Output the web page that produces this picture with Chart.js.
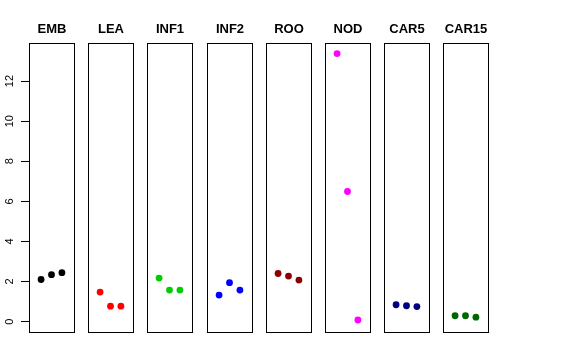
<!DOCTYPE html>
<html>
<head>
<meta charset="utf-8">
<script src="https://cdn.jsdelivr.net/npm/chart.js@4"></script>
<style>
    body { margin: 0; background: #fff; }
    #wrap { position: relative; width: 576px; height: 360px; }
    #wrap canvas { position: absolute; top: 0; }
</style>
</head>
<body>
<div id="wrap"></div>
<script>
// =========================================
// Data
// =========================================

const panels = ["EMB", "LEA", "INF1", "INF2", "ROO", "NOD", "CAR5", "CAR15"];

const positions = [1, 2, 3];

const emb   = [2.10, 2.34, 2.44];
const lea   = [1.47, 0.77, 0.77];
const inf1  = [2.17, 1.57, 1.57];
const inf2  = [1.32, 1.94, 1.57];
const roo   = [2.40, 2.27, 2.07];
const nod   = [13.37, 6.49, 0.08];
const car5  = [0.84, 0.79, 0.75];
const car15 = [0.29, 0.29, 0.22];

const seriesValues = [emb, lea, inf1, inf2, roo, nod, car5, car15];

const yTicks = [0, 2, 4, 6, 8, 10, 12];

const colors = [
    "#000000",
    "#FF0000",
    "#00CD00",
    "#0000FF",
    "#8B0000",
    "#FF00FF",
    "#000080",
    "#006400"
];


// =========================================
// Layout
// =========================================

const panelLefts = [29, 88, 147, 207, 266, 325, 384, 443];
const panelWidth = 44;
const plotTop = 43;
const plotBottom = 331;
const side = 8;
const axisWidth = 29;


// box + title drawn around each chart area
const panelDecor = {
    id: "panelDecor",
    afterDraw(chart, args, opts) {
        const a = chart.chartArea;
        const ctx = chart.ctx;
        ctx.save();
        ctx.strokeStyle = "#000";
        ctx.lineWidth = 1;
        ctx.strokeRect(
            Math.round(a.left) + 0.5,
            Math.round(a.top) + 0.5,
            Math.round(a.right - a.left),
            Math.round(a.bottom - a.top)
        );
        ctx.fillStyle = "#000";
        ctx.font = "bold 13px 'Liberation Sans', Arial, sans-serif";
        ctx.textAlign = "center";
        ctx.textBaseline = "middle";
        ctx.fillText(opts.text, (a.left + a.right) / 2 + 0.5, 29);
        ctx.restore();
    }
};


// =========================================
// One small chart per panel
// =========================================

const wrap = document.getElementById("wrap");

panels.forEach((name, i) => {

    const first = i === 0;
    const left = first ? 0 : panelLefts[i] - side;
    const width = first
        ? panelLefts[0] + panelWidth + 1 + side
        : panelWidth + 1 + side * 2;

    const canvas = document.createElement("canvas");
    canvas.style.left = left + "px";
    canvas.style.width = width + "px";
    canvas.style.height = "360px";
    canvas.width = width;
    canvas.height = 360;
    wrap.appendChild(canvas);

    new Chart(canvas, {

        type: "scatter",

        data: {
            datasets: [{
                data: positions.map((x, k) => ({ x: x, y: seriesValues[i][k] })),
                backgroundColor: colors[i],
                borderColor: colors[i],
                pointRadius: 3.4,
                borderWidth: 0
            }]
        },

        options: {
            responsive: false,
            animation: false,
            events: [],
            layout: {
                padding: {
                    left: first ? 0 : side,
                    right: side,
                    top: plotTop,
                    bottom: 360 - plotBottom - 1
                }
            },
            scales: {
                x: {
                    type: "linear",
                    display: false,
                    min: -0.16,
                    max: 4.16
                },
                y: {
                    type: "linear",
                    display: first,
                    min: -0.52,
                    max: 13.9,
                    afterBuildTicks: (scale) => {
                        scale.ticks = yTicks.map(v => ({ value: v }));
                    },
                    afterFit: (scale) => {
                        if (first) scale.width = axisWidth;
                    },
                    border: { display: false },
                    grid: {
                        drawOnChartArea: false,
                        drawTicks: true,
                        tickLength: 8,
                        color: "#000",
                        lineWidth: 1
                    },
                    ticks: {
                        color: "#000",
                        font: { size: 11, family: "'Liberation Sans', Arial, sans-serif" },
                        minRotation: 90,
                        maxRotation: 90,
                        crossAlign: "center",
                        padding: 5
                    }
                }
            },
            plugins: {
                legend: { display: false },
                tooltip: { enabled: false },
                panelDecor: { text: name }
            }
        },

        plugins: [panelDecor]
    });
});
</script>
</body>
</html>
